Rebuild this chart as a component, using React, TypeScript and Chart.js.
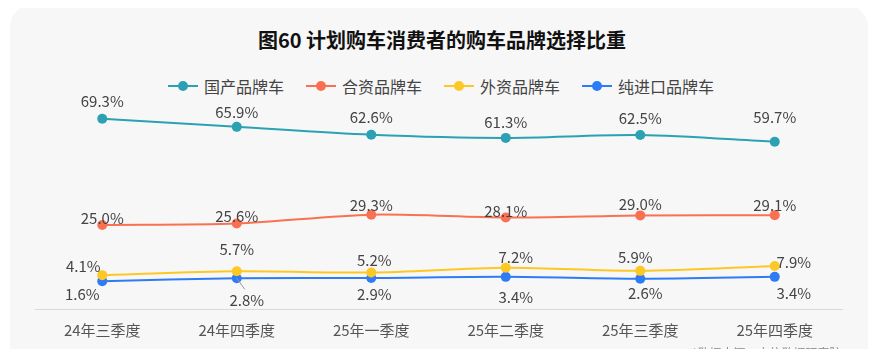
import React, { useEffect, useRef } from "react";
import { Chart, registerables } from "chart.js";

Chart.register(...registerables);

const categories = ["24年三季度", "24年四季度", "25年一季度", "25年二季度", "25年三季度", "25年四季度"];
const seriesNames = ["国产品牌车", "合资品牌车", "外资品牌车", "纯进口品牌车"];
const domestic = [69.3, 65.9, 62.6, 61.3, 62.5, 59.7];
const jointVenture = [25.0, 25.6, 29.3, 28.1, 29.0, 29.1];
const foreignBrand = [4.1, 5.7, 5.2, 7.2, 5.9, 7.9];
const imported = [1.6, 2.8, 2.9, 3.4, 2.6, 3.4];
const colors = ["#2ba1b3", "#fa7151", "#fdc823", "#2e7bf6"];

// label placement (style): [dx, dy] per point
const labelDx = [
  [0, 0, 0, 0, 0, 0],
  [0, 0, 0, 0, 0, 0],
  [-19, 0, 3, 10, -5, 19],
  [-20, 10, 3, 10, 5, 19],
];
const labelDy = [
  [-17, -15, -17, -16, -17, -24],
  [-7, -7, -9, -6, -11, -10],
  [-9, -22, -12, -10, -14, -4],
  [13, 22, 16, 20, 15, 16],
];
const leaderLines = [[], [], [], [1]];

const TITLE = "图60 计划购车消费者的购车品牌选择比重";
const SOURCE = "*数据来源：立信数据研究院";
const FONT = "'Noto Sans CJK SC', 'Noto Sans', sans-serif";

const labelPlugin = {
  id: "valueLabels",
  afterDatasetsDraw(chart: any) {
    const ctx = chart.ctx;
    ctx.save();
    ctx.font = `15px ${FONT}`;
    ctx.fillStyle = "#444";
    ctx.textAlign = "center";
    ctx.textBaseline = "middle";
    chart.data.datasets.forEach((ds: any, di: number) => {
      const meta = chart.getDatasetMeta(di);
      meta.data.forEach((pt: any, i: number) => {
        const x = pt.x + labelDx[di][i];
        const y = pt.y + labelDy[di][i];
        if (leaderLines[di].includes(i)) {
          ctx.strokeStyle = "#999";
          ctx.lineWidth = 1;
          ctx.beginPath();
          ctx.moveTo(pt.x, pt.y);
          ctx.lineTo(pt.x + 8, pt.y + 11);
          ctx.stroke();
        }
        ctx.fillText(ds.data[i].toFixed(1) + "%", x, y);
      });
    });
    ctx.restore();
  },
};

function LegendIcon({ color }: { color: string }) {
  return (
    <span style={{ position: "relative", display: "inline-block", width: 30, height: 12, marginRight: 6 }}>
      <span style={{ position: "absolute", left: 0, right: 0, top: 5, height: 2, background: color }} />
      <span
        style={{
          position: "absolute",
          left: 10,
          top: 1,
          width: 10,
          height: 10,
          borderRadius: 5,
          background: color,
        }}
      />
    </span>
  );
}

export default function App() {
  const ref = useRef<HTMLCanvasElement>(null);
  useEffect(() => {
    if (!ref.current) return;
    const all = [domestic, jointVenture, foreignBrand, imported];
    const chart = new Chart(ref.current, {
      type: "line",
      data: {
        labels: categories,
        datasets: all.map((d, i) => ({
          label: seriesNames[i],
          data: d,
          borderColor: colors[i],
          backgroundColor: colors[i],
          borderWidth: 2,
          pointRadius: 5,
          pointHoverRadius: 5,
          pointBorderWidth: 0,
          tension: 0.3,
          clip: false as any,
        })),
      },
      options: {
        responsive: false,
        animation: false,
        layout: { padding: { left: 35, right: 42, top: 117, bottom: 6 } },
        plugins: {
          legend: { display: false },
          title: { display: false },
          tooltip: { enabled: false },
        },
        scales: {
          x: {
            offset: true,
            grid: { display: false, drawTicks: false },
            border: { display: true, color: "#d9d9d9", width: 1 },
            ticks: { color: "#555", padding: 12, font: { size: 15, family: FONT } },
          },
          y: {
            display: false,
            min: -10,
            max: 70,
          },
        },
      },
      plugins: [labelPlugin],
    });
    return () => chart.destroy();
  }, []);

  return (
    <div
      style={{
        margin: -8,
        width: 884,
        height: 357,
        position: "relative",
        overflow: "hidden",
        background: "#fff",
        fontFamily: FONT,
      }}
    >
      <div
        style={{
          position: "absolute",
          left: 10,
          top: 5,
          width: 858,
          height: 400,
          background: "#f7f7f7",
          borderRadius: 22,
        }}
      />
      <div
        style={{
          position: "absolute",
          left: 0,
          width: 884,
          top: 27,
          textAlign: "center",
          fontSize: 20,
          fontWeight: 700,
          color: "#111",
          lineHeight: "26px",
          paddingLeft: 0,
        }}
      >
        {TITLE}
      </div>
      <div
        style={{
          position: "absolute",
          left: 168,
          top: 75,
          display: "flex",
          alignItems: "center",
          fontSize: 16,
          color: "#444",
          lineHeight: "22px",
        }}
      >
        {seriesNames.map((n, i) => (
          <span key={n} style={{ display: "flex", alignItems: "center", marginRight: 22 }}>
            <LegendIcon color={colors[i]} />
            {n}
          </span>
        ))}
      </div>
      <canvas ref={ref} width={884} height={357} style={{ position: "absolute", left: 0, top: 0 }} />
      <div
        style={{
          position: "absolute",
          left: 692,
          top: 345,
          fontSize: 12,
          color: "#888",
          lineHeight: "16px",
          whiteSpace: "nowrap",
          zIndex: 2,
        }}
      >
        {SOURCE}
      </div>
    </div>
  );
}
